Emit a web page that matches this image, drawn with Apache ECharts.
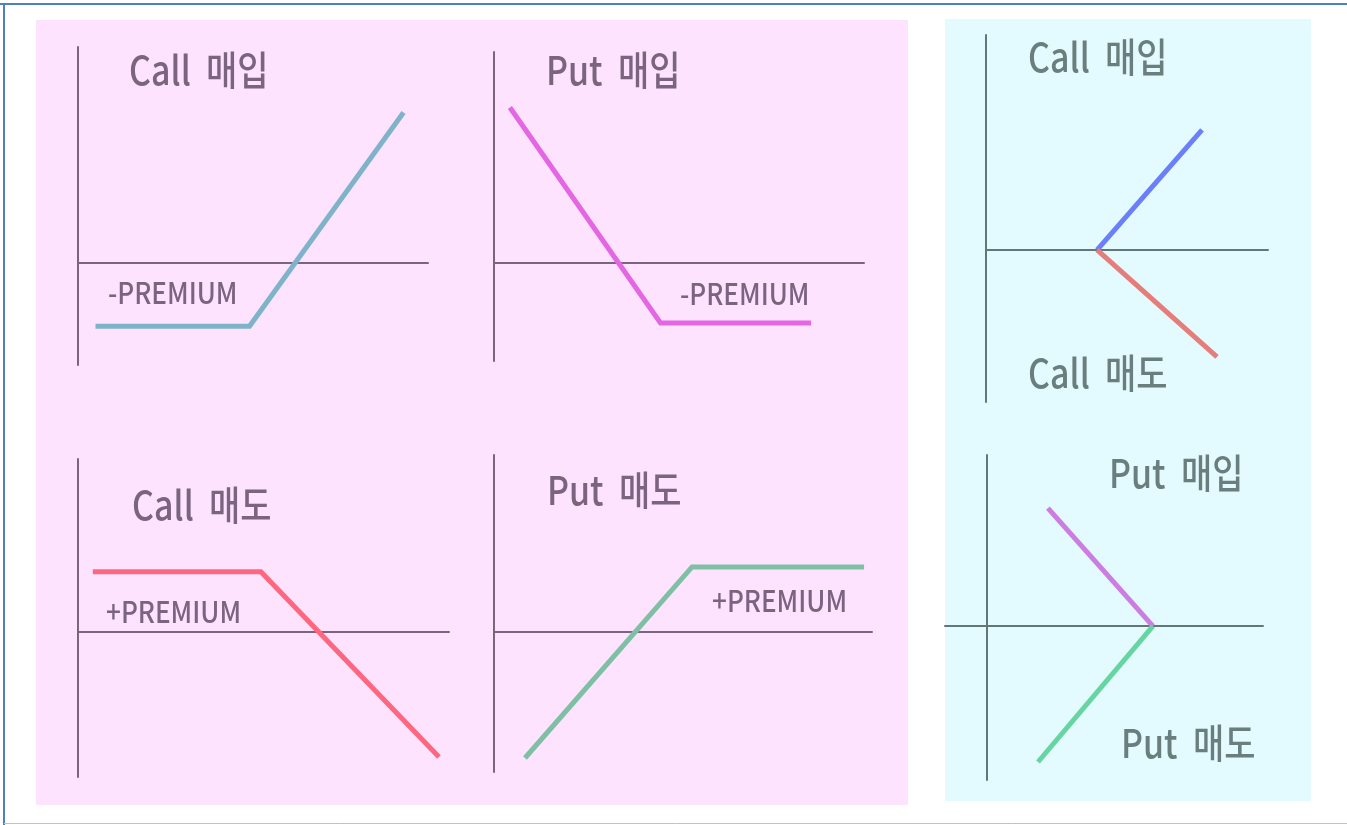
<!DOCTYPE html>
<html>
<head>
<meta charset="utf-8">
<script src="https://cdn.jsdelivr.net/npm/echarts@6/dist/echarts.min.js"></script>
<style>
  html, body { margin: 0; padding: 0; background: #ffffff; }
  #main { width: 1347px; height: 825px; }
</style>
</head>
<body>
<div id="main"></div>
<script>
// Payoff diagrams: [price, payoff] points, price axis 0..100
const callBuy = [[5, -18], [49, -18], [93, 43]];
const putBuy = [[4.3, 42], [45, -16.2], [85.7, -16.2]];
const callSell = [[4, 16.2], [49.3, 16.2], [97.3, -33.7]];
const putSell = [[8.2, -33.3], [52.4, 17.2], [97.9, 17.2]];
// simplified (no premium) versions on the right
const callBuySimple = [[39.4, 0], [76.6, 42.6]];
const callSellSimple = [[39.4, 0], [81.9, -37.9]];
const putBuySimple = [[20.3, 39.3], [55.3, 0]];
const putSellSimple = [[55.3, 0], [17, -45.3]];

const titles = ['Call  매입', 'Put  매입', 'Call  매도', 'Put  매도'];
const premiumLabels = ['-PREMIUM', '-PREMIUM', '+PREMIUM', '+PREMIUM'];
const rightTitles = ['Call  매입', 'Call  매도', 'Put  매입', 'Put  매도'];

// axis ranges per panel [xmin, xmax, ymin, ymax]
const ranges = [
    [0, 100, -29.1, 61.7],
    [0, 100, -26.5, 57.0],
    [0, 100, -39.1, 46.6],
    [0, 100, -37.0, 46.8],
    [0, 100, -53.9, 76.2],
    [-14, 92, -51.3, 57]
];

const grids = [
    { left: 78, top: 47, width: 350, height: 318 },
    { left: 494, top: 52, width: 370, height: 309 },
    { left: 78, top: 459, width: 371, height: 318 },
    { left: 494, top: 455, width: 378, height: 317 },
    { left: 986, top: 35, width: 282, height: 367 },
    { left: 945, top: 455, width: 318, height: 325 }
];

const pinkAxis = '#7b6480';
const cyanAxis = '#647777';
const pinkText = '#7a6480';
const cyanText = '#6a7e7e';

var chartDom = document.getElementById('main');
var myChart = echarts.init(chartDom);

function makeAxis(min, max, color){
    return {
        type: 'value',
        min: min,
        max: max,
        axisLine: { show: true, onZero: true, lineStyle: { color: color, width: 2 } },
        axisTick: { show: false },
        axisLabel: { show: false },
        splitLine: { show: false }
    };
}

let xAxes = [];
let yAxes = [];
for (let i = 0; i < ranges.length; i++){
    const c = i < 4 ? pinkAxis : cyanAxis;
    xAxes.push(Object.assign(makeAxis(ranges[i][0], ranges[i][1], c), { gridIndex: i }));
    yAxes.push(Object.assign(makeAxis(ranges[i][2], ranges[i][3], c), { gridIndex: i }));
}

const lineSeries = (data, idx, color) => {
    return {
        type: 'line',
        xAxisIndex: idx,
        yAxisIndex: idx,
        data: data,
        showSymbol: false,
        silent: true,
        lineStyle: { color: color, width: 5, join: 'miter' }
    };
};

// text helper (the original font is a condensed one, so squeeze it a bit)
const label = (text, x, y, size, sx, color) => {
    return {
        type: 'text',
        x: x,
        y: y,
        scaleX: sx,
        z: 100,
        style: {
            text: text,
            fill: color,
            font: '500 ' + size + 'px "Noto Sans CJK KR"',
            verticalAlign: 'middle'
        }
    };
};

var option = {
    animation: false,
    backgroundColor: '#ffffff',
    grid: grids,
    xAxis: xAxes,
    yAxis: yAxes,
    series: [
        lineSeries(callBuy, 0, '#7fb3c9'),
        lineSeries(putBuy, 1, '#e466e3'),
        lineSeries(callSell, 2, '#ff6680'),
        lineSeries(putSell, 3, '#7fc0a5'),
        lineSeries(callBuySimple, 4, '#6b7ffa'),
        lineSeries(callSellSimple, 4, '#e57d7b'),
        lineSeries(putBuySimple, 5, '#cc7de2'),
        lineSeries(putSellSimple, 5, '#66d5a2')
    ],
    graphic: [
        // frame: dark top/left, faint bottom, open on the right
        { type: 'line', z: -10, shape: { x1: 0, y1: 4, x2: 1347, y2: 4 }, style: { stroke: '#4f80c0', lineWidth: 2 } },
        { type: 'line', z: -10, shape: { x1: 4, y1: 3, x2: 4, y2: 825 }, style: { stroke: '#4f80c0', lineWidth: 2 } },
        { type: 'line', z: -10, shape: { x1: 4, y1: 823.5, x2: 1347, y2: 823.5 }, style: { stroke: '#aec6e6', lineWidth: 1 } },
        { type: 'rect', z: -9, shape: { x: 36, y: 20, width: 872, height: 785 }, style: { fill: '#fde3fe' } },
        { type: 'rect', z: -9, shape: { x: 945, y: 19, width: 366, height: 782 }, style: { fill: '#e3fbfe' } },
        label(titles[0], 129, 70, 40, 0.85, pinkText),
        label(titles[1], 546, 70, 40, 0.85, pinkText),
        label(titles[2], 132, 505, 40, 0.85, pinkText),
        label(titles[3], 547, 490, 40, 0.85, pinkText),
        label(premiumLabels[0], 108, 293, 30, 0.87, pinkText),
        label(premiumLabels[1], 680, 294, 30, 0.87, pinkText),
        label(premiumLabels[2], 106, 612, 30, 0.87, pinkText),
        label(premiumLabels[3], 712, 601, 30, 0.87, pinkText),
        label(rightTitles[0], 1028, 57, 40, 0.85, cyanText),
        label(rightTitles[1], 1028, 373, 40, 0.85, cyanText),
        label(rightTitles[2], 1109, 473, 40, 0.85, cyanText),
        label(rightTitles[3], 1121, 743, 40, 0.85, cyanText)
    ]
};
option && myChart.setOption(option);
</script>
</body>
</html>
